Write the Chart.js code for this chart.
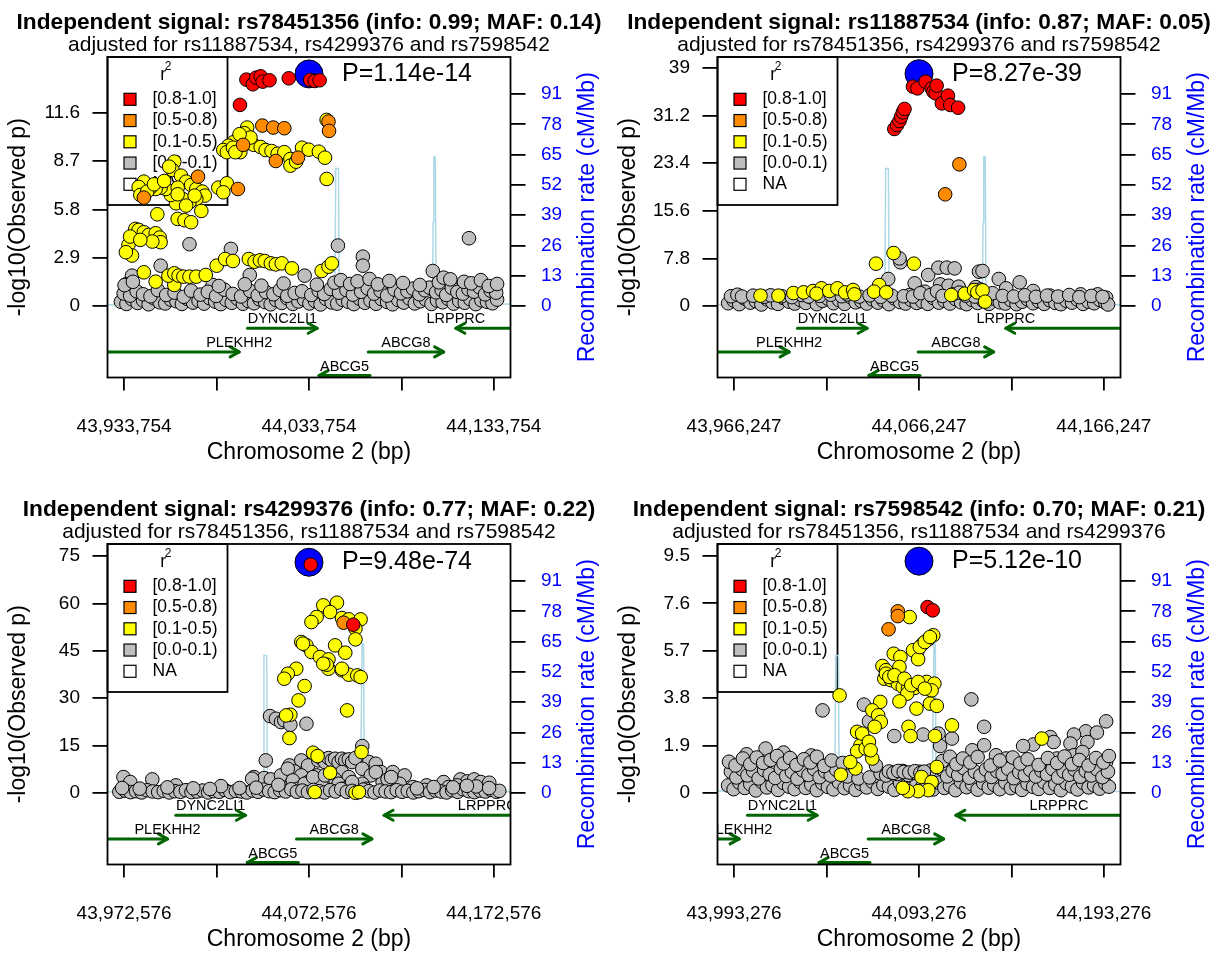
<!DOCTYPE html>
<html>
<head>
<meta charset="utf-8">
<title>Independent signals at the ABCG5/ABCG8 locus</title>
<script src="https://cdn.jsdelivr.net/npm/chart.js@4.4.1/dist/chart.umd.min.js"></script>
<style>
  html, body { margin: 0; padding: 0; background: #fff; overflow: hidden; }
  #wrap { position: relative; width: 1220px; height: 955px; background: #fff; }
  canvas { position: absolute; }
</style>
</head>
<body>
<div id="wrap">
  <canvas id="panel0" width="610" height="487" style="left:0;top:0"></canvas>
  <canvas id="panel1" width="610" height="487" style="left:610px;top:0"></canvas>
  <canvas id="panel2" width="610" height="468" style="left:0;top:487px"></canvas>
  <canvas id="panel3" width="610" height="468" style="left:610px;top:487px"></canvas>
</div>
<script>
// one panel per conditionally independent SNP; positions are in kb on chr2
const snpIds = ['rs78451356', 'rs11887534', 'rs4299376', 'rs7598542'];
const snpInfo = [0.99, 0.87, 0.77, 0.70];
const snpMaf = [0.14, 0.05, 0.22, 0.21];
const leadPos = [44033.754, 44066.247, 44072.576, 44093.276];
const leadP = [1.14e-14, 8.27e-39, 9.48e-74, 5.12e-10];

const xTickOffsets = [-100, -50, 0, 50, 100];
const xHalfWidth = 109;
const yTicks = [
  [0, 2.9, 5.8, 8.7, 11.6],
  [0, 7.8, 15.6, 23.4, 31.2, 39],
  [0, 15, 30, 45, 60, 75],
  [0, 1.9, 3.8, 5.7, 7.6, 9.5]
];
const yLimits = [[-4.30, 14.96], [-11.72, 40.82], [-22.6, 78.8], [-2.87, 9.98]];
const recombTicks = [0, 13, 26, 39, 52, 65, 78, 91];
const recombLimits = [-30.7, 106.9];

const ldBins = ['[0.8-1.0]', '[0.5-0.8)', '[0.1-0.5)', '[0.0-0.1)', 'NA'];
const ldColors = ['#FF0000', '#FF8C00', '#FFFF00', '#BEBEBE', '#FFFFFF'];

// recombination rate (cM/Mb)
const recombPos = [43923, 43945, 43968, 43990, 44012, 44030, 44047.8, 44048.2, 44049.7, 44050.1, 44070, 44090,
  44100.5, 44100.9, 44101.3, 44102.1, 44102.5, 44125, 44150, 44175, 44205];
const recombRate = [0.5, 0.9, 0.4, 1.0, 0.6, 0.8, 1.2, 59, 59, 1.4, 0.7, 0.9,
  1.3, 36, 64, 64, 1.1, 0.6, 0.9, 0.5, 0.7];

// genes (kb), strand and track row
const geneNames = ['PLEKHH2', 'DYNC2LI1', 'ABCG5', 'ABCG8', 'LRPPRC'];
const geneStart = [43864.0, 44000.5, 44039.2, 44065.8, 44113.2];
const geneEnd = [43996.0, 44038.2, 44066.8, 44106.6, 44224.8];
const geneStrand = [1, 1, -1, 1, -1];
const geneRow = [2, 1, 3, 2, 1];

// ---- rs78451356 ----
const p1Red = [[43996.4,12.08],[43999.9,13.60],[44003.4,13.32],[44005.2,13.72],[44007.6,13.80],[44008.7,13.48],
  [44012.4,13.56],[44022.8,13.68],[44034.4,13.58],[44036.9,13.52],[44039.5,13.56]];
const p1Orange = [[43998.1,9.68],[44008.5,10.84],[44014.4,10.72],[44020.4,10.68],[44044.3,11.08],[44044.6,10.52],
  [44015.8,8.71],[44027.8,8.91],[43995.3,7.03],[43973.7,7.77],[43944.4,6.51]];
const p1Yellow = [
  [44000.3,10.72],[43998.8,10.38],[43995.7,10.08],[43992.9,9.84],[43990.2,9.63],[43987.4,9.37],[43989.3,9.24],
  [43992.6,9.51],[43996.6,9.24],[44000.6,9.78],[44003.9,9.68],[44007.6,9.55],[44010.3,9.37],[44013.5,9.31],
  [44016.8,9.15],[44020.4,9.24],[44023.7,8.83],[44023.7,8.43],[44026.8,8.67],[44030.0,9.51],[44033.6,9.39],
  [44039.1,9.27],[44042.4,8.91],[44043.3,7.63],[44043.3,11.18],[43993.9,9.24],[44002.1,10.12],[43996.2,10.32],
  [43960.9,8.67],[43959.9,8.17],[43958.1,8.37],[43964.5,7.83],[43967.3,7.47],[43970.0,7.27],[43972.8,7.03],
  [43976.1,6.87],[43977.4,6.63],[43972.8,6.43],[43969.1,6.23],[43965.4,6.43],[43961.8,6.17],[43959.0,6.67],
  [43956.3,7.03],[43953.5,7.11],[43950.8,7.03],[43948.0,7.11],[43944.4,7.47],[43941.6,7.15],[43942.5,6.67],
  [43946.2,6.87],[43949.9,7.31],[43955.4,7.51],[43962.7,7.11],[43971.9,6.63],[43975.5,5.71],[43967.3,6.03],
  [43962.7,6.71],[43984.7,7.11],[43989.3,7.37],[43987.4,6.83],[43951.7,5.51],[43962.7,5.23],[43966.4,5.15],
  [43970.0,5.03],
  [43936.1,3.67],[43938.0,3.03],[43939.8,4.63],[43941.6,4.57],[43944.4,4.43],[43947.1,4.27],[43950.8,4.37],
  [43953.0,4.11],[43953.5,3.83],[43949.0,3.87],[43934.7,3.23],[43937.0,4.17],[43942.5,3.97],
  [43944.4,2.02],[43950.8,1.46],[43960.9,1.26],[43957.7,1.82],[43960.9,1.96],[43963.2,1.82],[43965.8,1.76],
  [43969.1,1.76],[43972.8,1.76],[43977.9,1.86],[43983.8,2.42],[43988.4,2.82],[43992.6,2.70],[44001.2,2.82],
  [44004.3,2.66],[44007.2,2.74],[44009.8,2.70],[44013.1,2.56],[44015.8,2.50],[44019.0,2.56],[44024.5,2.26],
  [44040.6,2.10],[44044.3,2.36],[44046.1,2.56]];
const p1Gray = [
  [43969.1,3.71],[43991.5,3.43],[43953.5,2.42],[44049.4,3.63],[44062.9,2.96],[44062.9,2.42],[44120.3,4.07],
  [44100.7,2.10],[43938.0,1.82],[43934.7,1.30],[43981.6,1.26],[44001.7,1.86],[44031.4,1.82],
  [43932,0.25],[43935,0.12],[43938,0.40],[43941,0.18],[43944,0.33],[43947,0.10],[43950,0.45],[43953,0.22],
  [43956,0.15],[43959,0.38],[43962,0.28],[43965,0.12],[43968,0.42],[43971,0.20],[43974,0.31],[43977,0.14],
  [43980,0.47],[43983,0.26],[43986,0.11],[43989,0.36],[43992,0.19],[43995,0.44],[43998,0.13],[44001,0.29],
  [44004,0.16],[44007,0.40],[44010,0.23],[44013,0.10],[44016,0.35],[44019,0.18],[44022,0.46],[44025,0.12],
  [44028,0.27],[44031,0.39],[44034,0.15],[44037,0.30],[44040,0.09],[44043,0.42],[44046,0.21],[44049,0.14],
  [44052,0.37],[44055,0.25],[44058,0.11],[44061,0.44],[44064,0.19],[44067,0.32],[44070,0.13],[44073,0.41],
  [44076,0.24],[44079,0.10],[44082,0.36],[44085,0.20],[44088,0.45],[44091,0.15],[44094,0.28],[44097,0.38],
  [44100,0.12],[44103,0.33],[44106,0.22],[44109,0.43],[44112,0.14],[44115,0.30],[44118,0.19],[44121,0.40],
  [44124,0.11],[44127,0.34],[44130,0.25],[44133,0.16],[44135.5,0.38],
  [43933.5,0.75],[43937,0.62],[43940.5,0.88],[43944,0.70],[43948,0.58],[43952,0.95],[43956.5,0.66],[43961,0.80],
  [43966,0.55],[43970,0.92],[43975,0.68],[43979,0.85],[43983.5,0.60],[43988,0.98],[43992.5,0.72],[43997,0.57],
  [44002,0.90],[44006,0.64],[44010.5,0.83],[44014.5,0.70],[44018,0.96],[44022,0.61],[44026,0.78],[44030,0.88],
  [44035,0.66],[44039,0.92],[44042,0.72],[44045.5,1.02],[44050,0.80],[44054,0.95],[44057.5,0.68],[44062,0.85],
  [44065.5,1.05],[44069,0.74],[44072.5,0.90],[44076,0.62],[44080,0.98],[44083.5,0.76],[44087,0.88],[44090,1.04],
  [44093.5,0.70],[44096.5,0.94],[44099,1.10],[44102.5,0.82],[44105.5,0.96],[44108,0.66],[44111,1.08],[44114,0.84],
  [44117,0.74],[44120,1.00],[44123,0.86],[44126,1.12],[44129,0.70],[44132,0.92],[44135,0.80],
  [43934,1.25],[43938.5,1.45],[43985,1.20],[43999,1.30],[44008,1.22],[44020,1.35],[44038,1.28],[44047.5,1.40],
  [44051,1.55],[44056,1.32],[44060,1.48],[44066.5,1.62],[44071,1.30],[44077.2,1.50],[44084.6,1.38],[44093.7,1.26],
  [44104,1.42],[44106.6,1.70],[44110.2,1.60],[44117.6,1.45],[44121.5,1.36],[44126.7,1.55],[44131,1.20],[44135.5,1.32]];

// ---- rs11887534 ----
const p2Red = [[44052.9,29.02],[44054.4,29.67],[44055.7,30.33],[44056.6,31.04],[44057.5,31.75],[44058.4,32.30],
  [44063.0,35.96],[44065.4,35.68],[44069.8,36.78],[44073.1,35.68],[44074.0,35.14],[44075.3,34.86],[44075.8,36.12],
  [44078.6,33.22],[44081.9,34.48],[44083.2,32.95],[44087.4,32.51]];
const p2Orange = [[44088.1,23.22],[44080.4,18.31]];
const p2Yellow = [[44043.0,6.94],[44052.5,8.69],[44063.5,6.94],[44044.7,3.44],[44041.9,2.35],[44048.5,2.24],
  [43980.5,1.70],[43990.2,1.70],[43998.3,2.13],[44003.8,2.24],[44008.9,2.46],[44013.5,2.90],[44010.8,2.02],
  [44017.7,2.46],[44022.1,2.90],[44026.3,2.24],[44030.6,2.62],[44031.3,1.91],[44083.7,1.80],[44091.0,2.02],
  [44096.0,2.62],[44097.8,2.24],[44100.6,2.57],[44102.0,0.71]];
const p2Gray = [
  [44056.2,7.16],[44055.7,7.81],[44071.2,5.08],[44076.7,6.29],[44081.3,6.29],[44085.5,6.17],[44063.9,3.72],
  [44049.6,4.43],[44098.7,5.63],[44100.6,5.74],[44109.4,4.43],[44120.7,3.88],[44128.0,2.46],[44153.7,1.91],
  [44162.9,1.91],[44167.5,1.37],[44077.7,3.55],[44082.2,3.33],[44087.7,3.17],[44061.2,1.80],[44069.4,2.35],
  [44113.4,2.90],[44137.2,1.70],[44144.6,1.26],[44097.0,3.10],[44099.5,2.70],
  [43963,0.45],[43966,0.90],[43969,0.30],[43972,1.20],[43975,0.55],[43978,0.80],[43981,0.25],[43984,1.10],
  [43987,0.60],[43990,0.35],[43993,1.30],[43996,0.70],[43999,0.40],[44002,1.00],[44005,0.50],[44008,1.40],
  [44011,0.30],[44014,0.85],[44017,1.20],[44020,0.45],[44023,0.95],[44026,0.35],[44029,1.50],[44032,0.60],
  [44035,0.80],[44038,0.40],[44041,1.10],[44044,0.55],[44047,0.90],[44050,0.30],[44053,1.25],[44056,0.65],
  [44059,0.40],[44062,1.00],[44065,0.50],[44068,0.75],[44071,0.35],[44074,1.30],[44077,0.55],[44080,0.85],
  [44083,0.40],[44086,1.15],[44089,0.60],[44092,0.30],[44095,1.00],[44098,0.50],[44101,0.85],[44104,0.35],
  [44107,1.20],[44110,0.60],[44113,0.40],[44116,0.95],[44119,0.30],[44122,0.70],[44125,1.10],[44128,0.45],
  [44131,0.80],[44134,0.35],[44137,0.95],[44140,0.50],[44143,0.30],[44146,0.85],[44149,0.55],[44152,1.05],
  [44155,0.35],[44158,0.70],[44161,0.45],[44164,1.00],[44167,0.55],[44168.5,0.25],
  [43964.5,1.60],[43968,1.85],[43970.5,1.55],[43976.5,1.70],[43982.5,1.50],[43986,1.75],[43992,1.60],[43997.5,1.45],
  [44003,1.80],[44006.5,1.55],[44012.5,1.65],[44018.5,1.85],[44024.5,1.60],[44027.5,1.90],[44034,1.55],[44039.5,1.75],
  [44045.5,1.50],[44051.5,1.70],[44058,1.60],[44063,1.55],[44067,2.10],[44072.5,1.80],[44076,2.40],[44079,1.65],
  [44084.5,1.90],[44088,2.20],[44091.5,1.70],[44096.5,1.55],[44103,1.80],[44106,2.10],[44111.5,1.65],[44117.5,1.55],
  [44123.5,1.75],[44129.5,1.50],[44135.5,1.70],[44141.5,1.55],[44147.5,1.80],[44153,1.45],[44159.5,1.65],[44165.5,1.50]];

// ---- rs4299376 ----
const p3Red = [[44073.5,72.26],[44096.5,53.27]];
const p3Orange = [[44091.3,53.90]];
const p3Yellow = [[44080.3,59.39],[44087.7,60.23],[44084.0,57.28],[44076.7,55.70],[44073.9,54.11],[44090.4,55.38],
  [44094.1,54.96],[44100.5,54.96],[44097.7,52.00],[44097.7,48.63],[44068.4,47.78],[44071.2,46.73],[44073.9,44.62],
  [44078.5,43.04],[44083.1,42.30],[44083.1,39.34],[44086.7,46.73],[44092.2,44.41],[44090.4,38.82],[44094.1,37.45],
  [44098.7,37.23],[44100.5,36.71],[44082.2,40.61],[44065.7,39.34],[44061.1,37.76],[44059.2,36.18],[44070.2,33.86],
  [44066.9,29.32],[44062.5,24.79],[44060.2,24.57],[44062.0,17.40],[44093.2,26.16],[44074.8,12.76],[44077.2,11.71],
  [44084.0,6.43],[44101.0,12.97],[44075.7,0.31],[44097.7,0.10],[44099.6,0.31],[44069.3,47.26],[44080.3,40.93],
  [44090.4,39.34]];
const p3Gray = [
  [44049.2,10.33],[44051.5,24.36],[44054.7,23.52],[44057.4,22.47],[44059.2,23.0],[44062.5,21.62],[44071.2,21.94],
  [44101.4,14.87],[44042.8,5.06],[44048.3,4.74],[44051.9,4.32],[44062.0,8.75],[44068.4,10.33],[44072.1,8.75],
  [44077.6,10.33],[44079.4,10.86],[44081.2,9.81],[44083.1,11.07],[44084.9,10.33],[44086.7,10.86],[44088.6,9.81],
  [44090.4,10.86],[44092.2,10.33],[44094.1,10.65],[44095.9,9.81],[44097.7,11.07],[44105.1,9.81],[44108.7,9.28],
  [44111.5,6.64],[44117.9,6.64],[44124.3,5.59],[44057.4,5.59],[44064.7,6.85],[44068.4,5.59],[44090.4,6.64],
  [44101.4,7.70],[44062.0,1.90],[44083.1,2.95],[44112.4,3.48],[43972.2,5.06],[43975.9,3.48],[43987.8,4.32],
  [44000.6,2.43],[44041.8,4.53],[44154.5,4.32],[44158.2,3.69],[44161.9,4.32],[44165.5,3.48],[44170.1,3.27],
  [44145.4,3.48],[44148.1,1.90],[44152.7,2.43],[44136.2,2.43],[44061.1,7.70],[44076.7,5.59],[44086.7,4.32],
  [44094.1,5.06],[44106.0,5.59],[44115.1,4.32],[44121.6,2.95],[44128.9,1.90],[44072.1,3.48],[44079.4,2.43],
  [44101.4,2.95],[44063.8,4.00],[44066.6,1.37],[44070.2,2.95],[44074.8,5.06],[44081.2,5.59],[44088.6,2.95],
  [44091.3,1.37],[44095.9,3.48],[44103.2,1.37],[44108.7,6.64],[44117.0,5.06],
  [43970,0.4],[43973,0.8],[43976,0.3],[43979,0.6],[43982,0.2],[43985,0.9],[43988,0.5],[43991,0.3],[43994,0.7],
  [43997,0.2],[44000,0.6],[44003,0.4],[44006,0.9],[44009,0.3],[44012,0.5],[44015,0.8],[44018,0.2],[44021,0.6],
  [44024,0.4],[44027,1.0],[44030,0.3],[44033,0.7],[44036,0.5],[44039,0.2],[44042,0.8],[44045,0.4],[44048,1.1],
  [44051,0.6],[44054,0.3],[44057,0.9],[44060,0.5],[44063,1.2],[44066,0.4],[44069,0.8],[44072,0.3],[44075,1.0],
  [44078,0.6],[44081,0.2],[44084,0.9],[44087,0.5],[44090,1.3],[44093,0.4],[44096,0.7],[44099,0.3],[44102,1.1],
  [44105,0.6],[44108,0.2],[44111,0.8],[44114,0.5],[44117,0.3],[44120,0.9],[44123,0.4],[44126,0.7],[44129,0.2],
  [44132,0.6],[44135,1.0],[44138,0.3],[44141,0.8],[44144,0.5],[44147,0.2],[44150,0.9],[44153,0.4],[44156,1.2],
  [44159,0.6],[44162,0.3],[44165,0.8],[44168,0.5],[44171,1.0],[44174,0.4],[44175.5,0.7],
  [43971.5,1.6],[43996,1.8],[44025,2.2],[44035,1.6],[44140,1.9],[44163,2.1],[44170,1.6],[43981,1.4],[44010,1.5],
  [44019,1.3],[44044,1.7],[44056,2.6],[44131,1.5],[44150.5,1.8],[44158,2.3]];

// ---- rs7598542 ----
const p4Red = [[44097.9,7.45],[44100.7,7.32]];
const p4Orange = [[44081.8,7.28],[44081.8,7.09],[44076.8,6.56]];
const p4Yellow = [[44088.2,7.05],[44101.0,6.32],[44098.3,6.16],[44095.5,5.99],[44092.4,5.68],[44090.0,5.72],
  [44092.8,5.36],[44079.6,5.58],[44083.2,5.45],[44073.5,5.09],[44075.4,4.92],[44082.7,5.05],[44074.5,4.58],
  [44078.1,4.52],[44081.8,4.38],[44084.5,4.25],[44087.3,4.18],[44090.9,4.21],[44094.6,4.32],[44097.4,4.45],
  [44101.6,4.38],[44100.1,4.11],[44086.9,3.98],[44082.7,3.67],[44091.9,3.38],[44099.2,3.58],[44102.9,3.49],
  [44111.1,2.71],[44101.9,2.28],[44087.6,2.65],[44088.7,2.28],[44050.3,3.91],[44072.3,3.65],[44068.0,3.31],
  [44071.2,3.11],[44072.6,2.85],[44069.3,2.65],[44059.8,2.45],[44063.5,2.18],[44061.6,1.91],[44059.8,1.67],
  [44064.4,1.78],[44068.0,1.38],[44058.9,0.98],[44056.1,1.24],[44051.0,0.73],[44102.9,1.04],[44094.6,0.64],
  [44100.1,0.44],[44098.3,0.11],[44092.8,0.07],[44087.3,0.07],[44084.5,0.20],[44159.7,2.18],
  [44075.4,4.78],[44077.2,4.65],[44080.0,4.72],[44085.4,4.58],[44089.1,4.32],[44092.8,4.45],[44096.4,4.18],
  [44093.7,5.85],[44096.4,6.05],[44099.2,6.25],[44062.5,2.38],[44066.2,2.05],[44067.1,1.71]];
const p4Gray = [
  [44041.1,3.31],[44063.5,3.54],[44121.6,3.75],[44128.5,2.65],[44194.5,2.87],[44183.5,2.47],[44177.1,2.34],
  [44189.5,2.42],[44155.1,1.94],[44164.3,2.24],[44184.4,2.04],[44175.2,1.98],[44066.2,2.87],[44079.9,2.28],
  [44095.5,2.34],[44103.8,2.38],[44111.1,2.18],[44104.7,1.88],[44122.1,1.71],[44128.5,1.91],[44010.3,1.78],
  [44134.9,1.51],[44140.4,1.38],[44167.9,1.38],[44177.1,1.51],[44194.5,1.24],[44149.6,1.88],[44181.7,1.64],
  [44166.1,2.04],[44000,1.55],[44020,1.62],[44035,1.50],
  [43990,0.30],[43993,0.15],[43996,0.42],[43999,0.20],[44002,0.35],[44005,0.10],[44008,0.45],[44011,0.22],
  [44014,0.31],[44017,0.12],[44020,0.40],[44023,0.25],[44026,0.15],[44029,0.44],[44032,0.20],[44035,0.33],
  [44038,0.11],[44041,0.38],[44044,0.24],[44047,0.14],[44050,0.42],[44053,0.19],[44056,0.30],[44059,0.12],
  [44062,0.36],[44065,0.22],[44068,0.45],[44071,0.16],[44074,0.32],[44077,0.25],[44080,0.12],[44083,0.40],
  [44086,0.28],[44089,0.18],[44092,0.38],[44095,0.24],[44098,0.33],[44101,0.14],[44104,0.41],[44107,0.20],
  [44110,0.30],[44113,0.11],[44116,0.44],[44119,0.23],[44122,0.35],[44125,0.13],[44128,0.40],[44131,0.21],
  [44134,0.32],[44137,0.15],[44140,0.42],[44143,0.19],[44146,0.28],[44149,0.12],[44152,0.37],[44155,0.24],
  [44158,0.16],[44161,0.43],[44164,0.20],[44167,0.34],[44170,0.11],[44173,0.39],[44176,0.26],[44179,0.14],
  [44182,0.41],[44185,0.22],[44188,0.30],[44191,0.17],[44194,0.38],[44196,0.25],
  [43991.5,0.85],[43994.5,0.62],[43997.5,0.95],[44000.5,0.70],[44003.5,0.88],[44006.5,0.58],[44009.5,0.92],
  [44012.5,0.75],[44015.5,0.60],[44018.5,0.98],[44021.5,0.68],[44024.5,0.84],[44027.5,0.57],[44030.5,0.90],
  [44033.5,0.72],[44036.5,0.96],[44039.5,0.63],[44042.5,0.86],[44045.5,0.70],[44048.5,0.93],[44054.5,0.66],
  [44060.5,0.58],[44066.5,0.62],[44072.5,0.78],[44075.5,0.70],[44078.5,0.82],[44081.5,0.76],[44084.5,0.88],
  [44087.5,0.72],[44090.5,0.80],[44093.5,0.85],[44096.5,0.74],[44099.5,0.90],[44105.5,0.95],[44108.5,0.66],
  [44111.5,0.88],[44114.5,0.72],[44117.5,0.99],[44120.5,0.61],[44123.5,0.85],[44126.5,0.70],[44129.5,0.94],
  [44132.5,0.64],[44135.5,0.87],[44138.5,0.76],[44141.5,0.97],[44144.5,0.59],[44147.5,0.83],[44150.5,0.71],
  [44153.5,0.92],[44156.5,0.66],[44159.5,0.89],[44162.5,0.74],[44165.5,0.96],[44168.5,0.62],[44171.5,0.86],
  [44174.5,0.73],[44177.5,0.93],[44180.5,0.65],[44183.5,0.88],[44186.5,0.70],[44189.5,0.95],[44192.5,0.63],
  [44195.5,0.85],
  [44077,0.86],[44079.5,0.80],[44082,0.88],[44085,0.84],[44088,0.82],[44091,0.87],[44094,0.80],[44096,0.85],
  [43990.5,1.25],[43994,1.10],[43998,1.38],[44002,1.15],[44005.5,1.42],[44009,1.20],[44013,1.32],[44016.5,1.48],
  [44020,1.18],[44023.5,1.40],[44027,1.12],[44031,1.35],[44034.5,1.22],[44038,1.45],[44042,1.08],[44046,1.30],
  [44052,1.20],[44070,1.10],[44106,1.28],[44110,1.45],[44113.5,1.15],[44117,1.38],[44121,1.22],[44125,1.44],
  [44132,1.10],[44137,1.30],[44144,1.42],[44148,1.18],[44152,1.35],[44158,1.12],[44163,1.40],[44168,1.20],
  [44172,1.46],[44176,1.15],[44180,1.32],[44185,1.10],[44189,1.40],[44193,1.22],[44196,1.48]];

const panelPoints = [
  [p1Red, p1Orange, p1Yellow, p1Gray],
  [p2Red, p2Orange, p2Yellow, p2Gray],
  [p3Red, p3Orange, p3Yellow, p3Gray],
  [p4Red, p4Orange, p4Yellow, p4Gray]
];

const FONT = '"Liberation Sans", Arial, Helvetica, sans-serif';
Chart.defaults.font.family = FONT;
Chart.defaults.color = '#000';

// plot frame inside each 610px-wide panel
const frameLeft = 107.5, frameRight = 510.5, frameTop = 57, frameBottom = 377.5;
const geneColor = '#006400';

function drawLegend(chart) {
  const { ctx, chartArea } = chart;
  const lx = chartArea.left, ly = chartArea.top;
  ctx.save();
  ctx.fillStyle = '#fff';
  ctx.fillRect(lx, ly, 120, 148);
  ctx.strokeStyle = '#000';
  ctx.lineWidth = 1.8;
  ctx.strokeRect(lx, ly, 120, 148);

  ctx.fillStyle = '#000';
  ctx.textAlign = 'center';
  ctx.textBaseline = 'alphabetic';
  ctx.font = '17.5px ' + FONT;
  ctx.fillText('r', lx + 55.7, ly + 23);
  ctx.font = '12px ' + FONT;
  ctx.fillText('2', lx + 60.5, ly + 13);

  ctx.font = '17.5px ' + FONT;
  ctx.textAlign = 'left';
  ctx.textBaseline = 'middle';
  ldBins.forEach((bin, k) => {
    const cy = ly + 42.3 + k * 21.25;
    ctx.fillStyle = ldColors[k];
    ctx.fillRect(lx + 16.5, cy - 6, 12, 12);
    ctx.lineWidth = 1.2;
    ctx.strokeRect(lx + 16.5, cy - 6, 12, 12);
    ctx.fillStyle = '#000';
    ctx.fillText(bin, lx + 45, cy);
  });
  ctx.restore();
}

function drawGenes(chart) {
  const { ctx, chartArea, scales } = chart;
  const xs = scales.x, gs = scales.yg;
  const margin = (xs.max - xs.min) * 0.04;
  ctx.save();
  ctx.beginPath();
  ctx.rect(chartArea.left, chartArea.top, chartArea.right - chartArea.left, chartArea.bottom - chartArea.top);
  ctx.clip();
  ctx.lineCap = 'round';
  ctx.lineJoin = 'round';
  ctx.font = '14.5px ' + FONT;
  ctx.textAlign = 'center';
  ctx.textBaseline = 'middle';
  geneNames.forEach((name, g) => {
    const x1 = xs.getPixelForValue(geneStart[g]);
    const x2 = xs.getPixelForValue(geneEnd[g]);
    const y = gs.getPixelForValue(geneRow[g]);
    ctx.strokeStyle = geneColor;
    ctx.lineWidth = 3;
    ctx.beginPath();
    ctx.moveTo(x1, y);
    ctx.lineTo(x2, y);
    ctx.stroke();
    // arrow head on the 3' end
    const hx = geneStrand[g] > 0 ? x2 : x1;
    const back = geneStrand[g] > 0 ? -9 : 9;
    ctx.beginPath();
    ctx.moveTo(hx + back, y - 5);
    ctx.lineTo(hx, y);
    ctx.lineTo(hx + back, y + 5);
    ctx.stroke();

    // label sits on the gene centre unless that is too close to the edge
    let lab = (geneStart[g] + geneEnd[g]) / 2;
    if (lab < xs.min + margin) lab = geneEnd[g];
    else if (lab > xs.max - margin) lab = geneStart[g];
    ctx.fillStyle = '#000';
    ctx.fillText(name, xs.getPixelForValue(lab), y - 9);
  });
  ctx.restore();
}

function buildPanel(i) {
  const canvas = document.getElementById('panel' + i);
  const H = canvas.height;
  const center = leadPos[i];
  const leadLogP = -Math.log10(leadP[i]);
  const others = snpIds.filter((s, k) => k !== i);
  const title = 'Independent signal: ' + snpIds[i] + ' (info: ' + snpInfo[i].toFixed(2) +
    '; MAF: ' + snpMaf[i].toFixed(2) + ')';
  const subtitle = 'adjusted for ' + others[0] + ', ' + others[1] + ' and ' + others[2];
  const [red, orange, yellow, gray] = panelPoints[i];

  const pointSet = (data, color, order) => ({
    data: data,
    backgroundColor: color,
    borderColor: '#000',
    borderWidth: 1,
    pointRadius: 6.8,
    order: order
  });

  const locusPlugin = {
    id: 'locus' + i,
    beforeDatasetsDraw(chart) {
      drawLegend(chart);
      drawGenes(chart);
    },
    afterDatasetsDraw(chart) {
      const { ctx, chartArea, scales } = chart;
      ctx.save();
      // frame
      ctx.strokeStyle = '#000';
      ctx.lineWidth = 1.8;
      ctx.strokeRect(chartArea.left, chartArea.top, chartArea.right - chartArea.left, chartArea.bottom - chartArea.top);
      // p-value of the lead SNP
      ctx.fillStyle = '#000';
      ctx.font = '25px ' + FONT;
      ctx.textAlign = 'left';
      ctx.textBaseline = 'middle';
      ctx.fillText('P=' + leadP[i].toExponential(2),
        scales.x.getPixelForValue(center) + 33, scales.y.getPixelForValue(leadLogP));
      ctx.restore();
    },
    afterDraw(chart) {
      const { ctx, chartArea } = chart;
      const cx = (chartArea.left + chartArea.right) / 2;
      ctx.save();
      ctx.fillStyle = '#000';
      ctx.textAlign = 'center';
      ctx.textBaseline = 'alphabetic';
      ctx.font = 'bold 22.7px ' + FONT;
      ctx.fillText(title, cx, 28.5);
      ctx.font = '21px ' + FONT;
      ctx.fillText(subtitle, cx, 51);
      // right axis title reads bottom-to-top
      ctx.translate(588, (chartArea.top + chartArea.bottom) / 2);
      ctx.rotate(-Math.PI / 2);
      ctx.fillStyle = '#0000FF';
      ctx.font = '23px ' + FONT;
      ctx.textBaseline = 'middle';
      ctx.fillText('Recombination rate (cM/Mb)', 0, 0);
      ctx.restore();
    }
  };

  return new Chart(canvas, {
    type: 'scatter',
    data: {
      datasets: [
        {
          type: 'line',
          data: recombPos.map((p, k) => ({ x: p, y: recombRate[k] })),
          yAxisID: 'y1',
          borderColor: '#ADD8E6',
          borderWidth: 1.5,
          pointRadius: 0,
          tension: 0,
          fill: false,
          order: 9
        },
        {
          data: [[center, leadLogP]],
          backgroundColor: '#0000FF',
          borderColor: '#000',
          borderWidth: 1,
          pointRadius: 14,
          order: 8
        },
        pointSet(gray, ldColors[3], 7),
        pointSet(yellow, ldColors[2], 6),
        pointSet(orange, ldColors[1], 5),
        pointSet(red, ldColors[0], 4)
      ]
    },
    options: {
      responsive: false,
      maintainAspectRatio: false,
      animation: false,
      devicePixelRatio: 1,
      events: [],
      layout: { padding: { top: frameTop, left: 0, right: 0, bottom: 0 } },
      plugins: {
        legend: { display: false },
        tooltip: { enabled: false }
      },
      scales: {
        x: {
          type: 'linear',
          position: 'bottom',
          min: center - xHalfWidth,
          max: center + xHalfWidth,
          bounds: 'data',
          afterFit: s => { s.height = H - frameBottom; },
          afterBuildTicks: s => { s.ticks = xTickOffsets.map(d => ({ value: center + d })); },
          border: { display: false },
          grid: { drawOnChartArea: false, drawTicks: true, tickLength: 13, color: '#000', lineWidth: 1.8 },
          ticks: {
            autoSkip: false,
            maxRotation: 0,
            minRotation: 0,
            padding: 24.5,
            color: '#000',
            font: { size: 19 },
            callback: (v, idx) => idx % 2 ? '' : Math.round(v * 1000).toLocaleString('en-US')
          },
          title: {
            display: true,
            text: 'Chromosome 2 (bp)',
            color: '#000',
            font: { size: 23, lineHeight: 1 },
            padding: { top: 0, bottom: H - 453 - 11.5 }
          }
        },
        y: {
          type: 'linear',
          position: 'left',
          min: yLimits[i][0],
          max: yLimits[i][1],
          bounds: 'data',
          afterFit: s => { s.width = frameLeft; },
          afterBuildTicks: s => { s.ticks = yTicks[i].map(v => ({ value: v })); },
          border: { display: false },
          grid: { drawOnChartArea: false, drawTicks: true, tickLength: 15, color: '#000', lineWidth: 1.8 },
          ticks: { autoSkip: false, padding: 12.5, color: '#000', font: { size: 19 }, callback: v => String(v) },
          title: {
            display: true,
            text: '-log10(Observed p)',
            color: '#000',
            font: { size: 23, lineHeight: 1 },
            padding: { top: 7.5, bottom: 0 }
          }
        },
        y1: {
          type: 'linear',
          position: 'right',
          min: recombLimits[0],
          max: recombLimits[1],
          bounds: 'data',
          afterFit: s => { s.width = 610 - frameRight; },
          afterBuildTicks: s => { s.ticks = recombTicks.map(v => ({ value: v })); },
          border: { display: false },
          grid: { drawOnChartArea: false, drawTicks: true, tickLength: 15, color: '#000', lineWidth: 1.8 },
          ticks: { autoSkip: false, padding: 15.5, color: '#0000FF', font: { size: 19 }, callback: v => String(v) }
        },
        // gene track rows, counted downwards under the zero line
        yg: {
          type: 'linear',
          display: false,
          reverse: true,
          min: -10.45,
          max: 3.08
        }
      }
    },
    plugins: [locusPlugin]
  });
}

[0, 1, 2, 3].forEach(buildPanel);
</script>
</body>
</html>
